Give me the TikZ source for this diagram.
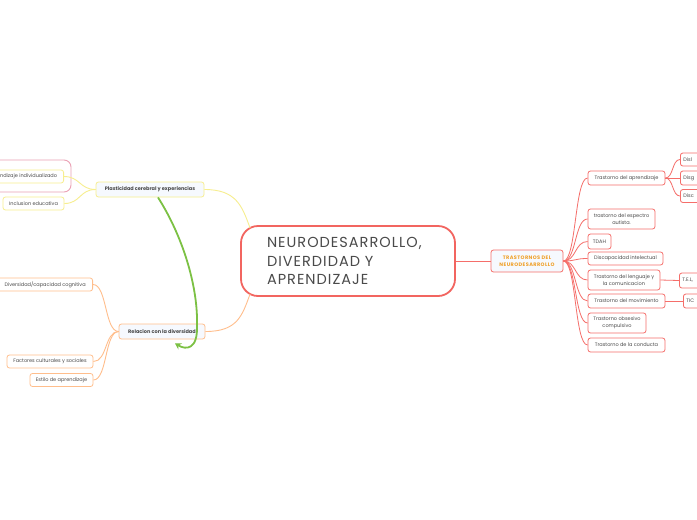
\documentclass[tikz,border=0pt]{standalone}
\usepackage{fontspec}
\setmainfont{Poppins}
\usetikzlibrary{arrows.meta,calc}
\definecolor{redc}{HTML}{F56E6A}
\definecolor{redmain}{HTML}{F26560}
\definecolor{yelc}{HTML}{F7EE8F}
\definecolor{orac}{HTML}{FFBE8C}
\definecolor{grnc}{HTML}{7CC144}
\definecolor{pinkc}{HTML}{EBA1B4}
\definecolor{txtc}{HTML}{4A4A4A}
\definecolor{fillc}{HTML}{F6F9FE}
\definecolor{trc}{HTML}{F0A028}
\newcommand{\smallf}{\fontsize{5}{7}\selectfont}
\begin{document}
\begin{tikzpicture}[x=1pt,y=-1pt,
  leaf/.style={draw=redc, line width=0.8pt, rounded corners=2.5pt, fill=white, font=\smallf, text=txtc, align=center, inner sep=1pt},
  yleaf/.style={leaf, draw=yelc},
  oleaf/.style={leaf, draw=orac},
  rline/.style={draw=redc, line width=0.8pt},
  yline/.style={draw=yelc, line width=0.9pt},
  oline/.style={draw=orac, line width=0.9pt}]
\useasboundingbox[fill=white] (0,0) rectangle (697,520);

% central
\node[draw=redmain, line width=1.8pt, rounded corners=17pt, fill=white, minimum width=214pt, minimum height=70pt, text=txtc, font=\fontsize{14.5}{18.5}\selectfont\addfontfeature{LetterSpace=7}, align=left] (central) at (348,261)
  {\hspace*{18pt}\parbox{180pt}{NEURODESARROLLO,\\DIVERDIDAD Y\\APRENDIZAJE}};

% right branch
\node[leaf, fill=fillc, minimum width=72pt, minimum height=22pt, text=trc, font=\smallf\bfseries\addfontfeature{LetterSpace=8}] (tr) at (527,261) {TRASTORNOS DEL\\NEURODESARROLLO};
\draw[rline] (central.east) -- (tr.west);

\node[leaf, minimum width=77pt, minimum height=14pt] (aprend) at (626.5,178) {Trastorno del aprendizaje};
\node[leaf, minimum width=67pt, minimum height=20pt] (autis) at (621.5,219) {trastorno del espectro\\autista.};
\node[leaf, minimum width=23pt, minimum height=15pt] (tdah) at (599.5,241.5) {TDAH};
\node[leaf, minimum width=75pt, minimum height=13pt] (disc) at (625.5,258.5) {Discapacidad intelectual};
\node[leaf, minimum width=72pt, minimum height=20pt] (leng) at (624,280) {Trastorno del lenguaje y\\la comunicacion};
\node[leaf, minimum width=77pt, minimum height=14pt] (mov) at (626.5,301) {Trastorno del movimiento};
\node[leaf, minimum width=58pt, minimum height=20pt] (obs) at (617,323) {Trastorno obsesivo\\compulsivo};
\node[leaf, minimum width=77pt, minimum height=14pt] (cond) at (626.5,345) {Trastorno de la conducta};

\foreach \n in {aprend,autis,tdah,disc,leng,mov,obs,cond}
  \draw[rline] (tr.east) .. controls +(13,0) and +(-13,0) .. (\n.west);

% grandchildren (cut at the right edge)
\node[leaf, anchor=west, minimum height=13pt, text width=30pt, align=left, inner sep=3pt] (disl) at (680,159.5) {Disl};
\node[leaf, anchor=west, minimum height=14pt, text width=30pt, align=left, inner sep=3pt] (disg) at (680,178) {Disg};
\node[leaf, anchor=west, minimum height=13pt, text width=30pt, align=left, inner sep=3pt] (disca) at (680,196) {Disc};
\node[leaf, anchor=west, minimum height=15pt, text width=30pt, align=left, inner sep=3pt] (tel) at (679,280.5) {T.E.L,};
\node[leaf, anchor=west, minimum height=14pt, text width=30pt, align=left, inner sep=3pt] (tic) at (683,301) {TIC};
\foreach \n in {disl,disg,disca}
  \draw[rline] (aprend.east) .. controls +(8,0) and +(-8,0) .. (\n.west);
\draw[rline] (leng.east) -- (tel.west);
\draw[rline] (mov.east) -- (tic.west);

% left upper branch
\draw[pinkc, line width=0.9pt, rounded corners=7pt] (-10,160) rectangle (71,192);
\node[yleaf, fill=fillc, minimum width=108pt, minimum height=15pt, font=\smallf\bfseries] (plast) at (150,189.5) {Plasticidad cerebral y experiencias};
\node[yleaf, anchor=east, minimum width=70pt, minimum height=13pt] (apr) at (64,176.5) {ndizaje individualizado};
\node[yleaf, minimum width=61pt, minimum height=13pt] (inc) at (33.5,203.5) {Inclusion educativa};
\draw[yline] (plast.east) .. controls +(32,0) and +(-8,-22) .. ($(central.north west)+(10,3)$);
\draw[yline] (plast.west) .. controls +(-16,0) and +(16,0) .. (apr.east);
\draw[yline] (plast.west) .. controls +(-16,0) and +(16,0) .. (inc.east);

% left lower branch
\node[oleaf, fill=fillc, minimum width=86pt, minimum height=15pt, font=\smallf\bfseries] (rel) at (162,331.5) {Relacion con la diversidad};
\node[oleaf, anchor=east, minimum width=95pt, minimum height=13pt] (div) at (93,284.5) {Diversidad/capacidad cognitiva};
\node[oleaf, minimum width=86pt, minimum height=13pt] (fac) at (50,361.5) {Factores culturales y sociales};
\node[oleaf, minimum width=63pt, minimum height=13pt] (est) at (61.5,380) {Estilo de aprendizaje};
\draw[oline] (rel.east) .. controls +(32,0) and +(-8,22) .. ($(central.south west)+(10,-3)$);
\foreach \n in {div,fac,est}
  \draw[oline] (rel.west) .. controls +(-14,0) and +(14,0) .. (\n.east);

% green relation arrow
\draw[grnc, line width=1.8pt, -{Stealth[length=6pt,width=7pt]}]
  ($(plast.south)+(8,0)$) .. controls (185,240) and (198,290) .. (197,325)
  .. controls (198,350) and (186,350) .. ($(rel.south)+(13,4)$);
\end{tikzpicture}
\end{document}
